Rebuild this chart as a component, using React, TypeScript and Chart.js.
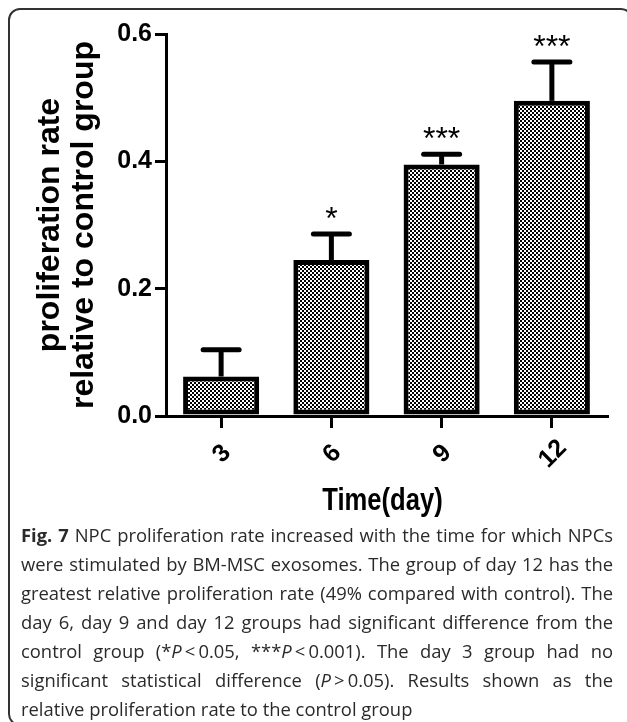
import React, { useEffect, useRef } from 'react';
import { Chart, registerables } from 'chart.js';

Chart.register(...registerables);

const categories = ['3', '6', '9', '12'];
const proliferation = [0.062, 0.245, 0.395, 0.495];
const errors = [0.042, 0.041, 0.016, 0.061];
const significance = ['', '*', '***', '***'];
const yMin = 0;
const yMax = 0.6;
const yStep = 0.2;

const yTitleLines = ['proliferation rate', 'relative to control group'];
const xTitle = 'Time(day)';

function makePattern(): CanvasPattern | string {
  const c = document.createElement('canvas');
  c.width = 4;
  c.height = 4;
  const g = c.getContext('2d');
  if (!g) return '#888';
  g.fillStyle = '#fff';
  g.fillRect(0, 0, 4, 4);
  g.fillStyle = '#000';
  g.fillRect(0, 0, 2, 2);
  g.fillRect(2, 2, 2, 2);
  const p = g.createPattern(c, 'repeat');
  return p || '#888';
}

const errorBarPlugin = {
  id: 'errorBars',
  afterDatasetsDraw(chart: any) {
    const ctx = chart.ctx as CanvasRenderingContext2D;
    const meta = chart.getDatasetMeta(0);
    const yScale = chart.scales.y;
    ctx.save();
    ctx.strokeStyle = '#000';
    ctx.fillStyle = '#000';
    ctx.lineWidth = 5;
    meta.data.forEach((bar: any, i: number) => {
      const x = bar.x;
      const top = bar.y;
      const yErr = yScale.getPixelForValue(proliferation[i] + errors[i]);
      ctx.lineCap = 'butt';
      ctx.beginPath();
      ctx.moveTo(x, top);
      ctx.lineTo(x, yErr);
      ctx.stroke();
      ctx.lineCap = 'round';
      ctx.beginPath();
      ctx.moveTo(x - 18, yErr);
      ctx.lineTo(x + 18, yErr);
      ctx.stroke();
      if (significance[i]) {
        ctx.font = '32px "Liberation Sans", Arial, sans-serif';
        ctx.textAlign = 'center';
        ctx.textBaseline = 'alphabetic';
        ctx.fillText(significance[i], x, yErr - 5);
      }
    });
    ctx.restore();
  },
};

const axisTextPlugin = {
  id: 'axisText',
  afterDraw(chart: any) {
    const ctx = chart.ctx as CanvasRenderingContext2D;
    const xScale = chart.scales.x;
    ctx.save();
    ctx.fillStyle = '#000';
    // rotated category labels, centred under each tick
    ctx.font = 'bold 25px "Liberation Sans", Arial, sans-serif';
    ctx.textAlign = 'center';
    ctx.textBaseline = 'middle';
    const labelY = xScale.top + 38;
    categories.forEach((lab, i) => {
      const x = xScale.getPixelForValue(i);
      ctx.save();
      ctx.translate(x + 1, labelY);
      ctx.rotate(-Math.PI / 4);
      ctx.fillText(lab, 0, 0);
      ctx.restore();
    });
    // condensed axis title
    ctx.font = 'bold 32px "Liberation Sans", Arial, sans-serif';
    ctx.save();
    ctx.translate((xScale.left + xScale.right) / 2 - 4, chart.height - 21);
    ctx.scale(0.8, 1);
    ctx.fillText(xTitle, 0, 0);
    ctx.restore();
    ctx.restore();
  },
};

const captionLines: React.ReactNode[] = [
  <>
    <b>Fig. 7</b> NPC proliferation rate increased with the time for which NPCs
  </>,
  <>were stimulated by BM-MSC exosomes. The group of day 12 has the</>,
  <>greatest relative proliferation rate (49% compared with control). The</>,
  <>day 6, day 9 and day 12 groups had significant difference from the</>,
  <>
    control group (*<i>P</i>{'\u2009<\u2009'}0.05, ***<i>P</i>{'\u2009<\u2009'}0.001). The day 3 group had no
  </>,
  <>
    significant statistical difference (<i>P</i>{'\u2009>\u2009'}0.05). Results shown as the
  </>,
  <>relative proliferation rate to the control group</>,
];

export default function App() {
  const canvasRef = useRef<HTMLCanvasElement | null>(null);

  useEffect(() => {
    const canvas = canvasRef.current;
    if (!canvas) return;
    const pattern = makePattern();
    const chart = new Chart(canvas, {
      type: 'bar',
      data: {
        labels: categories,
        datasets: [
          {
            data: proliferation,
            backgroundColor: pattern as any,
            borderColor: '#000',
            borderWidth: 5,
            borderSkipped: false,
            barPercentage: 1,
            categoryPercentage: 0.69,
          },
        ],
      },
      options: {
        responsive: false,
        animation: false,
        devicePixelRatio: 1,
        layout: { padding: { top: 24, right: 18, left: 0, bottom: 0 } },
        plugins: {
          legend: { display: false },
          tooltip: { enabled: false },
        },
        scales: {
          x: {
            offset: true,
            grid: {
              offset: false,
              drawOnChartArea: false,
              drawTicks: true,
              tickLength: 12,
              lineWidth: 3,
              color: '#000',
            },
            border: { display: true, width: 3, color: '#000' },
            ticks: { display: false },
            title: { display: false },
            afterFit(scale: any) {
              scale.height = 106;
            },
          },
          y: {
            min: yMin,
            max: yMax,
            ticks: {
              stepSize: yStep,
              color: '#000',
              padding: 3,
              font: { family: '"Liberation Sans", Arial, sans-serif', size: 25, weight: 'bold' },
              callback: (v: any) => Number(v).toFixed(1),
            },
            grid: {
              drawOnChartArea: false,
              drawTicks: true,
              tickLength: 11,
              lineWidth: 3,
              color: '#000',
            },
            border: { display: true, width: 3, color: '#000' },
            title: {
              display: true,
              text: yTitleLines,
              color: '#000',
              font: { family: '"Liberation Sans", Arial, sans-serif', size: 32, weight: 'bold', lineHeight: 1.06 },
              padding: { top: 23, bottom: 0 },
            },
            afterFit(scale: any) {
              scale.width = 156;
            },
          },
        },
      },
      plugins: [errorBarPlugin, axisTextPlugin],
    });
    return () => chart.destroy();
  }, []);

  return (
    <div
      style={{
        position: 'fixed',
        left: 0,
        top: 0,
        width: 627,
        height: 722,
        overflow: 'hidden',
        background: '#fff',
      }}
    >
      <div
        style={{
          position: 'absolute',
          left: 8,
          top: 8,
          width: 625,
          height: 718,
          boxSizing: 'border-box',
          border: '2px solid #333',
          borderRadius: 12,
        }}
      />
      <canvas
        ref={canvasRef}
        width={615}
        height={512}
        style={{ position: 'absolute', left: 10, top: 10, width: 615, height: 512 }}
      />
      <div
        style={{
          position: 'absolute',
          left: 21,
          top: 520,
          width: 592,
          fontFamily: '"Open Sans", "Noto Sans", sans-serif',
          fontSize: 18.4,
          lineHeight: '29px',
          color: '#2a2a2a',
        }}
      >
        {captionLines.map((line, i) => (
          <div
            key={i}
            style={{
              textAlign: i === captionLines.length - 1 ? 'left' : 'justify',
              textAlignLast: i === captionLines.length - 1 ? 'left' : 'justify',
              whiteSpace: 'nowrap',
            }}
          >
            {line}
          </div>
        ))}
      </div>
    </div>
  );
}
